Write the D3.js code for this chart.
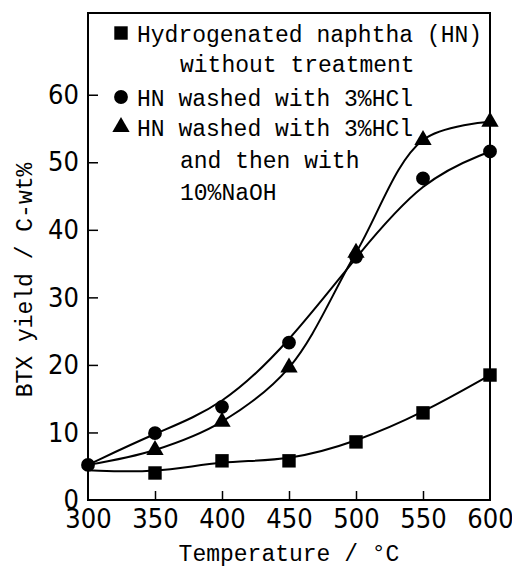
<!DOCTYPE html>
<html>
<head>
<meta charset="utf-8">
<script src="https://cdn.jsdelivr.net/npm/d3@7"></script>
<style>
  body { margin: 0; background: #fff; }
  .tick-num { font-family: "DejaVu Sans Condensed", "Liberation Sans Narrow", sans-serif; font-size: 27px; }
  .mono { font-family: "Liberation Mono", "DejaVu Sans Mono", monospace; font-size: 23px; }
</style>
</head>
<body>
<div id="chart"></div>
<script>
// temperatures (°C)
const temps = [300, 350, 400, 450, 500, 550, 600];
// BTX yield, C-wt%
const hnRaw = [4.4, 4.0, 5.8, 5.8, 8.6, 12.9, 18.5];
const hnHCl = [5.2, 9.9, 13.8, 23.3, 36.0, 47.6, 51.6];
const hnHClNaOH = [5.2, 7.4, 11.6, 19.6, 36.6, 53.3, 56.0];
const xTicks = [300, 350, 400, 450, 500, 550, 600];
const yTicks = [0, 10, 20, 30, 40, 50, 60];
const legendLines = [
    { marker: 'square', text: 'Hydrogenated naphtha (HN)' },
    { marker: null, text: 'without treatment' },
    { marker: 'circle', text: 'HN washed with 3%HCl' },
    { marker: 'triangle', text: 'HN washed with 3%HCl' },
    { marker: null, text: 'and then with' },
    { marker: null, text: '10%NaOH' }
];

const width = 512,
    height = 568,
    margin = { top: 13, right: 22, bottom: 68, left: 88 },
    w = width - margin.left - margin.right,
    h = height - margin.top - margin.bottom;

const svg = d3.select('#chart').append('svg')
    .attr('width', width)
    .attr('height', height);

const g = svg.append('g')
    .attr('transform', `translate(${margin.left},${margin.top})`);

const x = d3.scaleLinear().domain([300, 600]).range([0, w]);
const y = d3.scaleLinear().domain([0, 72.1]).range([h, 0]);

// frame
g.append('rect')
    .attr('width', w).attr('height', h)
    .attr('fill', 'none').attr('stroke', '#000').attr('stroke-width', 2);

// axes, ticks pointing inward
const xAxis = g.append('g')
    .attr('transform', `translate(0,${h})`)
    .call(d3.axisBottom(x).tickValues(xTicks).tickSizeInner(-9).tickSizeOuter(0).tickPadding(14));
const yAxis = g.append('g')
    .call(d3.axisLeft(y).tickValues(yTicks).tickSizeInner(-10).tickSizeOuter(0).tickPadding(9));

[xAxis, yAxis].forEach(a => {
    a.select('.domain').remove();
    a.selectAll('line').attr('stroke', '#000').attr('stroke-width', 1.5);
    a.selectAll('text').attr('class', 'tick-num').attr('fill', '#000');
});
yAxis.selectAll('.tick').filter(d => d === 0).select('line').remove();
xAxis.selectAll('.tick').filter(d => d === 300 || d === 600).select('line').remove();
xAxis.selectAll('text').attr('dy', '0.5em');

// axis titles
svg.append('text')
    .attr('class', 'mono')
    .attr('x', margin.left + w / 2 - 0)
    .attr('y', 561)
    .attr('text-anchor', 'middle')
    .text('Temperature / °C');

svg.append('text')
    .attr('class', 'mono')
    .attr('transform', 'translate(32,280) rotate(-90)')
    .attr('text-anchor', 'middle')
    .text('BTX yield / C-wt%');

// curves: smoothed fits like the original hand-drawn lines
const series = [
    { vals: hnRaw, marker: 'square', curve: d3.curveBasis, first: 1 },
    { vals: hnHClNaOH, marker: 'triangle', curve: d3.curveCatmullRom.alpha(0.5), first: 1 },
    { vals: hnHCl, marker: 'circle', curve: d3.curveBasis, first: 0 }
];

series.forEach(s => {
    const pts = temps.map((t, i) => [t, s.vals[i]]);
    g.append('path')
        .datum(pts)
        .attr('d', d3.line().x(d => x(d[0])).y(d => y(d[1])).curve(s.curve))
        .attr('fill', 'none')
        .attr('stroke', '#000')
        .attr('stroke-width', 2);
});

const symbols = {
    square: d3.symbol().type(d3.symbolSquare).size(180),
    circle: d3.symbol().type(d3.symbolCircle).size(150),
    triangle: d3.symbol().type(d3.symbolTriangle).size(130)
};

// at 300 °C the three points coincide; only the circle shows there
series.forEach(s => {
    g.selectAll(null)
        .data(temps.map((t, i) => [t, s.vals[i]]).slice(s.first))
        .enter().append('path')
        .attr('d', symbols[s.marker])
        .attr('transform', d => `translate(${x(d[0])},${y(d[1])})`)
        .attr('fill', '#000');
});

// legend
const legendY = [42, 72, 106, 136, 168, 200];
legendLines.forEach((l, i) => {
    const ty = legendY[i];
    if (l.marker) {
        svg.append('path')
            .attr('d', symbols[l.marker])
            .attr('transform', `translate(121,${ty - 9})`)
            .attr('fill', '#000');
    }
    svg.append('text')
        .attr('class', 'mono')
        .attr('x', l.marker ? 137 : 180)
        .attr('y', ty)
        .text(l.text);
});
</script>
</body>
</html>
